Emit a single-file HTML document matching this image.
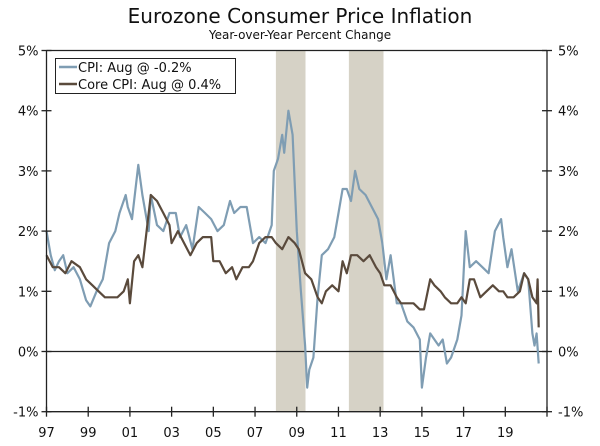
<!DOCTYPE html>
<html><head><meta charset="utf-8"><style>
body{margin:0;background:#fff;}
svg{display:block;font-family:"DejaVu Sans","Liberation Sans",sans-serif;}
</style></head><body>
<svg id="chart" width="600" height="446" viewBox="0 0 600 446">
<text x="300" y="23" text-anchor="middle" font-size="20" fill="#111">Eurozone Consumer Price Inflation</text>
<text x="300" y="39" text-anchor="middle" font-size="12" fill="#111">Year-over-Year Percent Change</text>
<g id="shades"></g>
<g id="grid"></g>
<g id="series"></g>
<g id="axes"></g>
<g>
<rect x="55.5" y="58.5" width="180" height="35" fill="#fff" stroke="#222" stroke-width="1"/>
<line x1="59" y1="67" x2="77" y2="67" stroke="#7f9db3" stroke-width="2.5"/>
<text x="78" y="72" font-size="13" fill="#111">CPI: Aug @ -0.2%</text>
<line x1="59" y1="84" x2="77" y2="84" stroke="#5a4a3c" stroke-width="2.5"/>
<text x="78" y="89" font-size="13" fill="#111">Core CPI: Aug @ 0.4%</text>
</g>
</svg>
<script>
const cpiYears=[1997.0,1997.2,1997.4,1997.6,1997.8,1998.0,1998.3,1998.6,1998.9,1999.1,1999.4,1999.7,2000.0,2000.3,2000.5,2000.8,2000.9,2001.1,2001.4,2001.6,2001.9,2002.0,2002.3,2002.6,2002.9,2003.2,2003.4,2003.7,2004.0,2004.3,2004.6,2004.9,2005.2,2005.5,2005.8,2006.0,2006.3,2006.6,2006.9,2007.2,2007.5,2007.8,2007.9,2008.1,2008.3,2008.4,2008.6,2008.8,2009.0,2009.2,2009.4,2009.5,2009.6,2009.8,2010.0,2010.2,2010.5,2010.8,2011.0,2011.2,2011.4,2011.6,2011.8,2012.0,2012.3,2012.6,2012.9,2013.1,2013.3,2013.5,2013.8,2014.0,2014.3,2014.6,2014.9,2015.0,2015.2,2015.4,2015.6,2015.8,2016.0,2016.2,2016.4,2016.7,2016.9,2017.1,2017.3,2017.6,2017.9,2018.2,2018.5,2018.8,2018.9,2019.1,2019.3,2019.6,2019.9,2020.1,2020.3,2020.4,2020.5,2020.6];
const cpiValues=[2.0,1.6,1.35,1.5,1.6,1.3,1.4,1.2,0.85,0.75,1.0,1.2,1.8,2.0,2.3,2.6,2.4,2.2,3.1,2.6,2.0,2.6,2.1,2.0,2.3,2.3,1.9,2.1,1.7,2.4,2.3,2.2,2.0,2.1,2.5,2.3,2.4,2.4,1.8,1.9,1.8,2.1,3.0,3.2,3.6,3.3,4.0,3.6,2.0,1.0,0.1,-0.6,-0.3,-0.1,0.9,1.6,1.7,1.9,2.3,2.7,2.7,2.5,3.0,2.7,2.6,2.4,2.2,1.8,1.2,1.6,0.8,0.8,0.5,0.4,0.2,-0.6,-0.1,0.3,0.2,0.1,0.2,-0.2,-0.1,0.2,0.6,2.0,1.4,1.5,1.4,1.3,2.0,2.2,1.9,1.4,1.7,1.0,1.3,1.2,0.3,0.1,0.3,-0.2];
const coreYears=[1997.0,1997.3,1997.6,1997.9,1998.2,1998.6,1998.9,1999.2,1999.5,1999.8,2000.1,2000.4,2000.7,2000.9,2001.0,2001.2,2001.4,2001.6,2001.8,2002.0,2002.3,2002.6,2002.9,2003.0,2003.3,2003.6,2003.9,2004.2,2004.5,2004.9,2005.0,2005.3,2005.6,2005.9,2006.1,2006.4,2006.7,2006.9,2007.2,2007.5,2007.8,2008.0,2008.3,2008.6,2008.9,2009.1,2009.4,2009.7,2010.0,2010.2,2010.4,2010.7,2011.0,2011.2,2011.4,2011.6,2011.9,2012.2,2012.5,2012.8,2013.0,2013.2,2013.5,2013.8,2014.0,2014.3,2014.6,2014.9,2015.1,2015.4,2015.6,2015.9,2016.1,2016.4,2016.7,2016.9,2017.1,2017.3,2017.5,2017.8,2018.1,2018.4,2018.7,2018.9,2019.1,2019.4,2019.7,2019.9,2020.1,2020.3,2020.5,2020.55,2020.6];
const coreValues=[1.6,1.4,1.4,1.3,1.5,1.4,1.2,1.1,1.0,0.9,0.9,0.9,1.0,1.2,0.8,1.5,1.6,1.4,2.0,2.6,2.5,2.3,2.1,1.8,2.0,1.8,1.6,1.8,1.9,1.9,1.5,1.5,1.3,1.4,1.2,1.4,1.4,1.5,1.8,1.9,1.9,1.8,1.7,1.9,1.8,1.7,1.3,1.2,0.9,0.8,1.0,1.1,1.0,1.5,1.3,1.6,1.6,1.5,1.6,1.4,1.3,1.1,1.1,0.9,0.8,0.8,0.8,0.7,0.7,1.2,1.1,1.0,0.9,0.8,0.8,0.9,0.8,1.2,1.2,0.9,1.0,1.1,1.0,1.0,0.9,0.9,1.0,1.3,1.2,0.9,0.8,1.2,0.4];
const recessions=[[2008.0,2009.42],[2011.5,2013.16]];
const yTicks=[-1,0,1,2,3,4,5];
const xTickYears=[1997,1999,2001,2003,2005,2007,2009,2011,2013,2015,2017,2019,2021];
const xTickLabels=["97","99","01","03","05","07","09","11","13","15","17","19",""];

const X0=46.5,X1=547,Y0=351.5,PX=60.2;
const x=t=>X0+(t-1997)*(X1-X0)/24;
const y=v=>Y0-v*PX;
const NS="http://www.w3.org/2000/svg";
function mk(tag,parent,attrs){const e=document.createElementNS(NS,tag);for(const k in attrs)e.setAttribute(k,attrs[k]);document.getElementById(parent).appendChild(e);return e;}

recessions.forEach(r=>{
 const e=mk('rect','shades',{x:x(r[0]),y:y(5),width:x(r[1])-x(r[0]),height:y(-1)-y(5),fill:'#d6d2c6'});
 
 
});
const z=mk('line','grid',{x1:X0,x2:X1,y1:y(0),y2:y(0),stroke:'#222','stroke-width':1.2});



function line(xs,vs,color,name){
 const d=xs.map((t,i)=>(i?'L':'M')+x(t).toFixed(1)+','+y(vs[i]).toFixed(1)).join('');
 const p=mk('path','series',{d:d,fill:'none',stroke:color,'stroke-width':2.2,'stroke-linejoin':'round'});
 
 
}
line(cpiYears,cpiValues,'#7f9db3','cpi-line');
line(coreYears,coreValues,'#5a4a3c','core-cpi-line');

const frame=mk('path','axes',{d:`M${X0},${y(5)}L${X1},${y(5)}M${X0},${y(5)}L${X0},${y(-1)}L${X1},${y(-1)}M${X1},${y(5)}L${X1},${y(-1)}`,fill:'none',stroke:'#222','stroke-width':1.3});


yTicks.forEach(v=>{
 mk('line','axes',{x1:X0-5,x2:X0+5,y1:y(v),y2:y(v),stroke:'#222','stroke-width':1.3});
 mk('line','axes',{x1:X1-5,x2:X1+5,y1:y(v),y2:y(v),stroke:'#222','stroke-width':1.3});
 const l=mk('text','axes',{x:X0-8,y:y(v)+5,'text-anchor':'end','font-size':13,fill:'#111'});
 l.textContent=v+'%';
 
 
 const r=mk('text','axes',{x:X1+11,y:y(v)+5,'text-anchor':'start','font-size':13,fill:'#111'});
 r.textContent=v+'%';
 
 
});
xTickYears.forEach((t,i)=>{
 mk('line','axes',{x1:x(t),x2:x(t),y1:y(-1)-5,y2:y(-1)+5,stroke:'#222','stroke-width':1.3});
 const l=mk('text','axes',{x:x(t),y:437,'text-anchor':'middle','font-size':13,fill:'#111'});
 l.textContent=xTickLabels[i];
 
 
});
</script>
</body></html>
